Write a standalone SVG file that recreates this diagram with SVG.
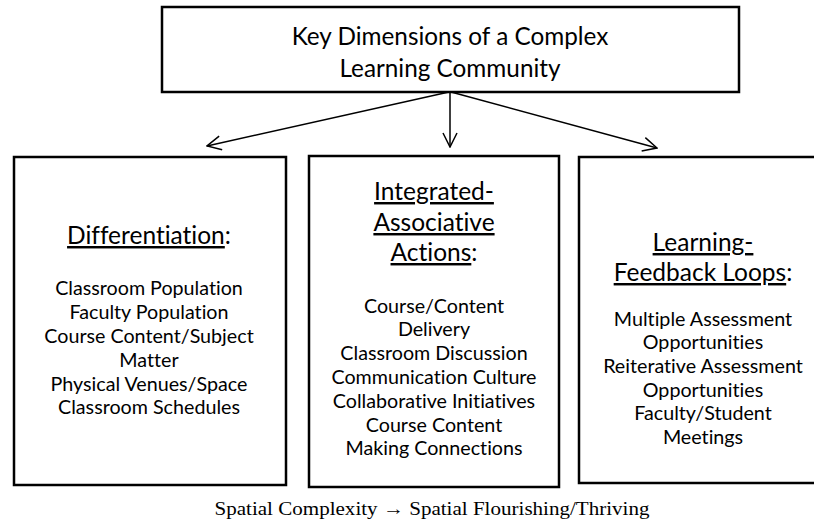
<svg xmlns="http://www.w3.org/2000/svg" width="814" height="522" viewBox="0 0 814 522">
  <style>
    .box { fill: #fff; stroke: #000; stroke-width: 2.5; }
    .link { fill: none; stroke: #000; stroke-width: 1.5; }
    text { font-variant-ligatures: none; font-feature-settings: "liga" 0, "clig" 0; }
    .title { font-family: Lato, "Liberation Sans", sans-serif; font-size: 24.3px; fill: #000; text-anchor: middle; }
    .head { font-family: Lato, "Liberation Sans", sans-serif; font-size: 24.5px; fill: #000; text-anchor: middle; }
    .item { font-family: Lato, "Liberation Sans", sans-serif; font-size: 19.7px; fill: #000; text-anchor: middle; }
    .u { text-decoration: underline; }
    .caption { font-family: "Liberation Serif", serif; font-size: 19px; fill: #000; text-anchor: middle; }
  </style>
  <defs>
    <marker id="open-arrow" viewBox="0 0 16 16" refX="15" refY="8" markerWidth="16" markerHeight="16" markerUnits="userSpaceOnUse" orient="auto">
      <path d="M1,1 L15,8 L1,15" fill="none" stroke="#000" stroke-width="1.5"/>
    </marker>
  </defs>
  <rect width="814" height="522" fill="#fff"/>

  <g id="root">
    <rect class="box" x="162" y="7" width="577" height="85"/>
    <text class="title" x="450" y="45">Key Dimensions of a Complex</text>
    <text class="title" x="450" y="77">Learning Community</text>
  </g>

  <g id="connectors">
    <line class="link" x1="449" y1="92" x2="207" y2="146" marker-end="url(#open-arrow)"/>
    <line class="link" x1="450" y1="92" x2="450" y2="147" marker-end="url(#open-arrow)"/>
    <line class="link" x1="451" y1="92" x2="657" y2="148" marker-end="url(#open-arrow)"/>
  </g>

  <g id="differentiation">
    <rect class="box" x="14" y="157" width="272" height="328"/>
    <text class="head" x="149" y="244"><tspan class="u">Differentiation</tspan>:</text>
    <text class="item" x="149" y="295">Classroom Population</text>
    <text class="item" x="149" y="319">Faculty Population</text>
    <text class="item" x="149" y="343">Course Content/Subject</text>
    <text class="item" x="149" y="367">Matter</text>
    <text class="item" x="149" y="391">Physical Venues/Space</text>
    <text class="item" x="149" y="414">Classroom Schedules</text>
  </g>

  <g id="integrated-associative">
    <rect class="box" x="309" y="156" width="250" height="331"/>
    <text class="head" x="434" y="200"><tspan class="u">Integrated-</tspan></text>
    <text class="head" x="434" y="231"><tspan class="u">Associative</tspan></text>
    <text class="head" x="434" y="261"><tspan class="u">Actions</tspan>:</text>
    <text class="item" x="434" y="313">Course/Content</text>
    <text class="item" x="434" y="336">Delivery</text>
    <text class="item" x="434" y="360">Classroom Discussion</text>
    <text class="item" x="434" y="384">Communication Culture</text>
    <text class="item" x="434" y="408">Collaborative Initiatives</text>
    <text class="item" x="434" y="432">Course Content</text>
    <text class="item" x="434" y="455">Making Connections</text>
  </g>

  <g id="learning-feedback">
    <path class="box" d="M816,157 L579,157 L579,483 L816,483"/>
    <text class="head" x="703" y="251"><tspan class="u">Learning-</tspan></text>
    <text class="head" x="703" y="281"><tspan class="u">Feedback Loops</tspan>:</text>
    <text class="item" x="703" y="326">Multiple Assessment</text>
    <text class="item" x="703" y="349">Opportunities</text>
    <text class="item" x="703" y="373">Reiterative Assessment</text>
    <text class="item" x="703" y="397">Opportunities</text>
    <text class="item" x="703" y="420">Faculty/Student</text>
    <text class="item" x="703" y="444">Meetings</text>
  </g>

  <text class="caption" x="432" y="515" textLength="435" lengthAdjust="spacingAndGlyphs">Spatial Complexity → Spatial Flourishing/Thriving</text>
</svg>
